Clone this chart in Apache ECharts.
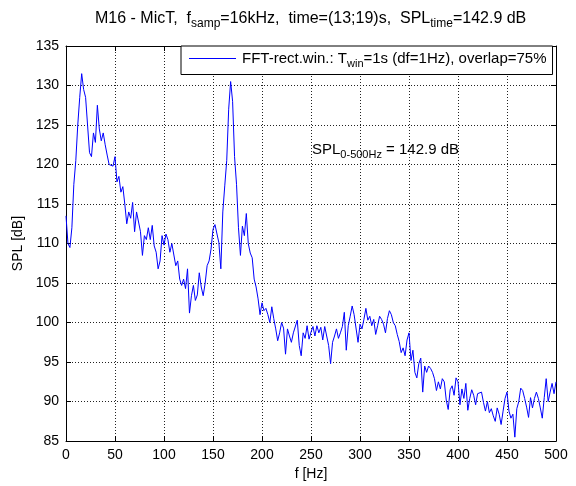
<!DOCTYPE html>
<html>
<head>
<meta charset="utf-8">
<script src="https://cdn.jsdelivr.net/npm/echarts@6/dist/echarts.min.js"></script>
<style>
  html, body { margin: 0; padding: 0; background: #fff; }
  #chart { width: 576px; height: 486px; }
</style>
</head>
<body>
<div id="chart"></div>
<script>
// Frequency bins [Hz]
const freqHz = [
  0,2,4,6,8,10,12,14,16,18,20,22,24,26,28,30,32,34,36,38,40,42,44,46,48,
  50,52,54,56,58,60,62,64,66,68,70,72,74,76,78,80,82,84,86,88,90,92,94,96,98,
  100,102,104,106,108,110,112,114,116,118,120,122,124,126,128,130,132,134,136,138,140,142,144,146,148,
  150,152,154,156,158,160,162,164,166,168,170,172,174,176,178,180,182,184,186,188,190,192,194,196,198,
  200,202,204,206,208,210,212,214,216,218,220,222,224,226,228,230,232,234,236,238,240,242,244,246,248,
  250,252,254,256,258,260,262,264,266,268,270,272,274,276,278,280,282,284,286,288,290,292,294,296,298,
  300,302,304,306,308,310,312,314,316,318,320,322,324,326,328,330,332,334,336,338,340,342,344,346,348,
  350,352,354,356,358,360,362,364,366,368,370,372,374,376,378,380,382,384,386,388,390,392,394,396,398,
  400,402,404,406,408,410,412,414,416,418,420,422,424,426,428,430,432,434,436,438,440,442,444,446,448,
  450,452,454,456,458,460,462,464,466,468,470,472,474,476,478,480,482,484,486,488,490,492,494,496,498,
  500
];

// Sound pressure level spectrum [dB]
const splDb = [
  113.5,110,109.5,112,117.5,120.5,125,128.5,131.5,129.5,128.5,125,121.5,121,124,122.8,127.5,124.5,123,124,122.5,121.2,120,120.2,119.8,
  121,117.8,118.5,116.5,117.2,115,112.5,114,113.2,115.2,111.5,114,114.2,111.5,108.5,111,110.5,112,110.5,112.3,109.7,108.9,106.8,107.8,111,
  109.8,111.2,110.5,108.9,110,109.8,107.2,107.8,105.5,104.7,105.5,104.3,106.8,101.2,103.4,104.7,102.8,103.5,106.3,104.5,103.4,105,107.2,107.8,109.3,
  111.8,112.4,112.2,110.1,106.8,114,117.3,120.5,127,130.5,128,121,117.5,112,108.5,112.2,111,113.8,110,108.8,108.2,105.5,104.5,103,101,
  102.5,101.5,101.8,101,100,102,100.5,99.2,97.7,98.7,100,99.3,96,99.2,98.3,97.5,98.7,98.5,100.3,97.1,95.8,98.7,98,99.6,97.9,
  98.8,99.5,98.3,99.6,98.7,99.4,97.8,99.5,98.3,97.1,94.8,97.5,98.3,99.2,98,98.7,99.5,101.3,96.5,99.6,100.8,102.1,101,101.2,97.5,
  99.8,99.2,100.4,101.8,100.3,100.8,99.6,100.4,98.5,99.6,100.8,100.4,99.8,98.7,100.5,101.5,101,100,99.6,98.5,97.6,96.2,96.8,95.8,97.8,
  98.7,95.2,96.5,93.7,93,94.8,95.5,91.2,94.5,93.7,94.5,94.2,93.7,92.9,91.4,92.5,91.6,92.9,92.5,90.2,89,91.5,92,90.8,93,
  92.5,89.6,91.6,90.4,92.3,88.9,90.4,91.5,90.8,89.6,91,91.2,91.2,89.9,88.8,90,88.6,89.1,88.2,87.5,89.2,88.4,87.1,88.8,90.4,
  91.2,88.8,87.9,88.4,85.5,89.1,90,91.7,91.4,90.4,89.3,88,90.5,89.2,90.4,91.2,90.4,89.2,87.9,90.5,92.9,90,91.2,92.3,91,
  92.5
];

const FONT = 'Liberation Sans, Arial, sans-serif';
const chart = echarts.init(document.getElementById('chart'), null, { renderer: 'canvas' });

const points = freqHz.map((f, i) => [f, splDb[i]]);

const dotted = { color: '#222', width: 1, type: [1, 2] };
const axisCommon = {
  type: 'value',
  axisLine: { show: true, onZero: false, lineStyle: { color: '#000', width: 1 } },
  axisTick: { show: true, inside: true, length: 5, lineStyle: { color: '#000' } },
};

const sub = { fontFamily: FONT, fontSize: 11, fontWeight: 'normal', color: '#000', lineHeight: 10, verticalAlign: 'bottom' };
const main = { fontFamily: FONT, fontSize: 15, fontWeight: 'normal', color: '#000', lineHeight: 22, verticalAlign: 'middle' };
const titleSub = Object.assign({}, sub, { fontSize: 12 });
const titleMain = Object.assign({}, main, { fontSize: 16 });

chart.setOption({
  animation: false,
  backgroundColor: '#fff',
  title: {
    text: '{a|M16 - MicT,  f}{s|samp}{a|=16kHz,  time=(13;19)s,  SPL}{s|time}{a|=142.9 dB}',
    left: 95,
    top: 8,
    padding: 0,
    textStyle: { fontWeight: 'normal', rich: { a: titleMain, s: titleSub } }
  },
  legend: {
    show: true,
    left: 181,
    top: 46,
    padding: [5, 6, 5, 8],
    backgroundColor: '#fff',
    borderColor: '#000',
    borderWidth: 1,
    borderRadius: 0,
    itemWidth: 47,
    itemHeight: 1,
    itemGap: 0,
    icon: 'rect',
    formatter: () => '{a|FFT-rect.win.: T}{s|win}{a|=1s (df=1Hz), overlap=75%}',
    textStyle: { padding: [0, 0, 0, 1], rich: { a: main, s: sub } }
  },
  grid: { left: 66, right: 20, top: 46, bottom: 44, show: false },
  xAxis: [
    Object.assign({}, axisCommon, {
      position: 'bottom',
      min: 0, max: 500, interval: 50,
      name: 'f [Hz]', nameLocation: 'middle', nameGap: 25,
      nameTextStyle: { fontFamily: FONT, fontSize: 14, color: '#000' },
      axisLabel: { fontFamily: FONT, fontSize: 14, color: '#000', margin: 7 },
      splitLine: { show: true, lineStyle: dotted }
    }),
    Object.assign({}, axisCommon, {
      position: 'top',
      min: 0, max: 500, interval: 50,
      axisLabel: { show: false },
      splitLine: { show: false }
    })
  ],
  yAxis: [
    Object.assign({}, axisCommon, {
      position: 'left',
      min: 85, max: 135, interval: 5,
      name: 'SPL [dB]', nameLocation: 'middle', nameGap: 38,
      nameTextStyle: { fontFamily: FONT, fontSize: 14, color: '#000' },
      axisLabel: { fontFamily: FONT, fontSize: 14, color: '#000', margin: 7 },
      splitLine: { show: true, lineStyle: dotted }
    }),
    Object.assign({}, axisCommon, {
      position: 'right',
      min: 85, max: 135, interval: 5,
      axisLabel: { show: false },
      splitLine: { show: false }
    })
  ],
  graphic: [
    {
      type: 'text',
      left: 312,
      top: 142,
      style: {
        text: '{a|SPL}{s|0-500Hz}{a| = 142.9 dB}',
        rich: { a: main, s: sub }
      }
    }
  ],
  series: [
    {
      name: 'FFT',
      type: 'line',
      xAxisIndex: 0,
      yAxisIndex: 0,
      data: points,
      showSymbol: false,
      symbol: 'none',
      lineStyle: { color: '#0000ff', width: 1 },
      itemStyle: { color: '#0000ff' },
      z: 3
    }
  ]
});
</script>
</body>
</html>
